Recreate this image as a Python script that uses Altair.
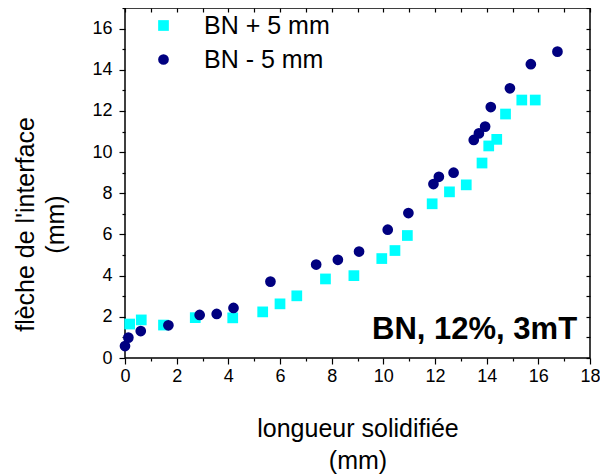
import altair as alt
import pandas as pd

series_names = ["BN + 5 mm", "BN - 5 mm"]
series_colors = ["#00FFFF", "#000080"]
series_shapes = ["square", "circle"]

plus_x = [0.18, 0.63, 1.49, 2.72, 4.17, 5.33, 6.00, 6.65, 7.76, 8.86, 9.94, 10.45,
          10.93, 11.89, 12.56, 13.21, 13.82, 14.08, 14.39, 14.73, 15.36, 15.88]
plus_y = [1.65, 1.85, 1.60, 1.96, 1.95, 2.24, 2.63, 3.02, 3.84, 4.00, 4.83, 5.22,
          5.95, 7.49, 8.07, 8.41, 9.47, 10.30, 10.62, 11.85, 12.53, 12.53]

minus_x = [0.0, 0.13, 0.61, 1.68, 2.89, 3.55, 4.20, 5.63, 7.40, 8.24, 9.06, 10.17,
           10.97, 11.94, 12.15, 12.72, 13.50, 13.70, 13.94, 14.16, 14.90, 15.71, 16.74]
minus_y = [0.58, 0.99, 1.31, 1.59, 2.09, 2.14, 2.43, 3.71, 4.54, 4.77, 5.17, 6.23,
           7.04, 8.45, 8.80, 9.00, 10.59, 10.91, 11.24, 12.19, 13.10, 14.27, 14.88]

x_ticks = list(range(0, 19))
y_ticks = list(range(0, 18))
x_title = ["longueur solidifiée", "(mm)"]
y_title = ["flèche de l'interface", "(mm)"]
annotation = "BN, 12%, 3mT"

rows = [{"x": a, "y": b, "serie": series_names[0]} for a, b in zip(plus_x, plus_y)]
rows += [{"x": a, "y": b, "serie": series_names[1]} for a, b in zip(minus_x, minus_y)]
df = pd.DataFrame(rows)

FONT = "Liberation Sans"
xscale = alt.Scale(domain=[0, 18], nice=False, zero=False)
yscale = alt.Scale(domain=[0, 17], nice=False, zero=False)

even = "datum.value % 2 === 0"
major_minor = {"condition": {"test": even, "value": 6}, "value": 3}

# invisible layer carrying the top and right axes (inward ticks)
frame = alt.Chart(df).mark_point(opacity=0).encode(
    x=alt.X("x:Q", scale=xscale, axis=alt.Axis(
        orient="top", values=x_ticks, labels=False, domain=False, grid=False,
        tickSize=4, offset=-4, tickColor="black", tickWidth=1.2, title=None)),
    y=alt.Y("y:Q", scale=yscale, axis=alt.Axis(
        orient="right", values=y_ticks, labels=False, domain=False, grid=False,
        tickSize=4, offset=-4, tickColor="black", tickWidth=1.2, title=None)),
)

legend = alt.Legend(
    title=None, orient="none", legendX=26, legendY=5, padding=0,
    labelFontSize=25, labelFont=FONT, labelColor="black", labelOffset=28,
    symbolSize=115, rowPadding=8, symbolStrokeWidth=0,
)

points = alt.Chart(df).mark_point(filled=True, opacity=1, size=115).encode(
    x=alt.X("x:Q", scale=xscale, axis=alt.Axis(
        orient="bottom", values=x_ticks, domain=False, grid=False,
        labelExpr="datum.value % 2 === 0 ? datum.label : ''", labelFlush=False,
        tickSize=major_minor, tickColor="black", tickWidth=1.2,
        labelFontSize=18, labelFont=FONT, labelColor="black", labelPadding=3,
        title=x_title, titleFontSize=25, titleFont=FONT, titleFontWeight="normal",
        titleColor="black", titleLineHeight=32, titleBaseline="top", titleY=58)),
    y=alt.Y("y:Q", scale=yscale, axis=alt.Axis(
        orient="left", values=y_ticks, domain=False, grid=False,
        labelExpr="datum.value % 2 === 0 ? datum.label : ''", labelFlush=False,
        tickSize=major_minor, tickColor="black", tickWidth=1.2,
        labelFontSize=18, labelFont=FONT, labelColor="black", labelPadding=7,
        title=y_title, titleFontSize=25, titleFont=FONT, titleFontWeight="normal",
        titleColor="black", titleLineHeight=30, titleBaseline="bottom",
        titleAlign="center", titleAngle=270, titleX=-87, titleY=216)),
    color=alt.Color("serie:N", scale=alt.Scale(domain=series_names, range=series_colors),
                    legend=legend),
    shape=alt.Shape("serie:N", scale=alt.Scale(domain=series_names, range=series_shapes),
                    legend=legend),
    order=alt.Order("serie:N", sort="ascending"),
)

label = alt.Chart(pd.DataFrame({"t": [annotation]})).mark_text(
    align="right", baseline="alphabetic", font=FONT, fontSize=31,
    fontWeight="bold", color="black",
).encode(
    x=alt.XDatum(17.5, type="quantitative", axis=None),
    y=alt.YDatum(0.9, type="quantitative", axis=None),
    text="t:N",
)

chart = alt.layer(frame, points, label).resolve_axis(
    x="independent", y="independent"
).properties(
    width=465, height=350,
    padding={"left": 117, "top": 0, "right": 10, "bottom": 116},
    autosize=alt.AutoSizeParams(type="none"),
).configure_view(stroke="black", strokeWidth=1.5)

chart.save("out.html", embed_options={"renderer": "svg", "actions": False})
